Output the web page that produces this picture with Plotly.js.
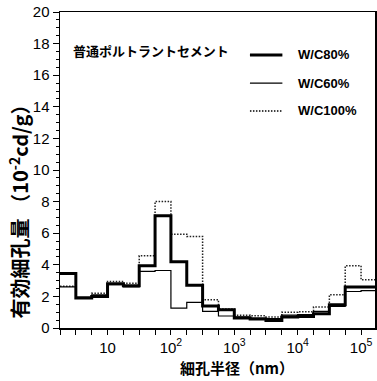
<!DOCTYPE html>
<html><head><meta charset="utf-8">
<script src="https://cdn.plot.ly/plotly-3.0.1.min.js"></script>
<style>html,body{margin:0;padding:0;background:#fff}</style>
</head><body><div id="chart" style="width:377px;height:381px"></div>
<script>
// Bin edges of pore radius (nm), quarter-decade bins
const radiusEdges = [1.778, 3.162, 5.623, 10, 17.78, 31.62, 56.23, 100, 177.8, 316.2, 562.3, 1000, 1778, 3162, 5623, 10000, 17783, 31623, 56234, 100000, 177828];
// Effective pore volume (10^-2 cc/g) per bin
const wc80 = [3.45, 1.9, 2.0, 2.8, 2.67, 3.94, 7.1, 4.2, 2.7, 1.4, 1.15, 0.63, 0.57, 0.48, 0.69, 0.72, 0.9, 1.47, 2.59, 2.59];
const wc60 = [2.6, 1.95, 2.1, 2.75, 2.6, 3.58, 3.64, 1.26, 1.62, 1.05, 0.76, 0.7, 0.62, 0.6, 0.82, 0.85, 1.05, 1.37, 2.31, 2.37];
const wc100 = [2.65, 1.9, 2.2, 2.94, 2.84, 4.57, 8.0, 5.94, 5.79, 1.79, 1.2, 0.8, 0.77, 0.7, 1.0, 1.03, 1.33, 2.1, 3.94, 3.05];
const seriesNames = ['W/C80%', 'W/C60%', 'W/C100%'];
const xTickVals = [10, 100, 1000, 10000, 100000];
const xTickText = ['10', '10<sup>2</sup>', '10<sup>3</sup>', '10<sup>4</sup>', '10<sup>5</sup>'];
const xMinorVals = [1.778, 3.162, 5.623, 17.78, 31.62, 56.23, 177.8, 316.2, 562.3, 1778, 3162, 5623, 17783, 31623, 56234, 177828];

function stepY(v){ return v.concat([v[v.length-1]]); }

const styles = [
  {color:'#000', width:3, dash:'solid'},
  {color:'#000', width:1.2, dash:'solid'},
  {color:'#222', width:1.5, dash:'1.5px,1.5px'}
];
const data = [wc100, wc60, wc80].map((v,i)=>{
  const idx = [2,1,0][i];
  return {x: radiusEdges, y: stepY(v), type:'scatter', mode:'lines', line: Object.assign({shape:'hv'}, styles[idx]), name: seriesNames[idx], showlegend:false, hoverinfo:'skip'};
});

const font = {family:'Liberation Sans, Arial, sans-serif', color:'#000'};
const cjk = 'Noto Sans CJK JP, sans-serif';

// legend samples (paper coords)
const legY = [0.864, 0.775, 0.687];
const shapes = legY.map((y,i)=>({type:'line', xref:'paper', yref:'paper', x0:0.603, x1:0.706, y0:y, y1:y, line:{color:'#000', width:styles[i].width, dash:styles[i].dash}}));
const annotations = legY.map((y,i)=>({xref:'paper', yref:'paper', x:0.75, y:y, xanchor:'left', yanchor:'middle', showarrow:false, text:seriesNames[i], font:{family:font.family, size:13, color:'#000', weight:'bold'}}));
annotations.push({xref:'paper', yref:'paper', x:0.036, y:0.877, xanchor:'left', yanchor:'middle', showarrow:false, text:'普通ポルトラントセメント', font:{family:cjk, size:13, color:'#000', weight:'bold'}});
annotations.push({xref:'paper', yref:'paper', x:-0.13, y:0.385, xanchor:'center', yanchor:'middle', showarrow:false, textangle:-90, text:'有効細孔量 （10<sup>-2</sup>cd/g）', font:{family:cjk, size:20, color:'#000', weight:'bold'}});
annotations.push({xref:'paper', yref:'paper', x:0.562, y:-0.125, xanchor:'center', yanchor:'middle', showarrow:false, text:'細孔半径（nm）', font:{family:cjk, size:15, color:'#000', weight:'bold'}});

const layout = {
  width:377, height:381,
  margin:{l:60, r:2, t:12, b:53},
  paper_bgcolor:'#fff', plot_bgcolor:'#fff',
  font: font,
  xaxis:{type:'log', range:[0.25, 5.22], showgrid:false, zeroline:false, showline:true, linecolor:'#000', linewidth:1.5, mirror:true,
    tickvals:xTickVals, ticktext:xTickText, ticks:'outside', ticklen:5, tickwidth:1, tickcolor:'#000', tickfont:{size:15, color:'#000'},
    minor:{tickvals:xMinorVals, ticks:'outside', ticklen:5, tickcolor:'#000'}},
  yaxis:{range:[0,20], showgrid:false, zeroline:false, showline:true, linecolor:'#000', linewidth:1.5, mirror:true,
    dtick:2, ticks:'outside', ticklen:6, tickwidth:1, tickcolor:'#000', tickfont:{size:15, color:'#000'},
    minor:{dtick:0.5, ticks:'outside', ticklen:3, tickcolor:'#000'}},
  shapes: shapes,
  annotations: annotations
};
Plotly.newPlot('chart', data, layout, {staticPlot:true, displayModeBar:false});
</script></body></html>
